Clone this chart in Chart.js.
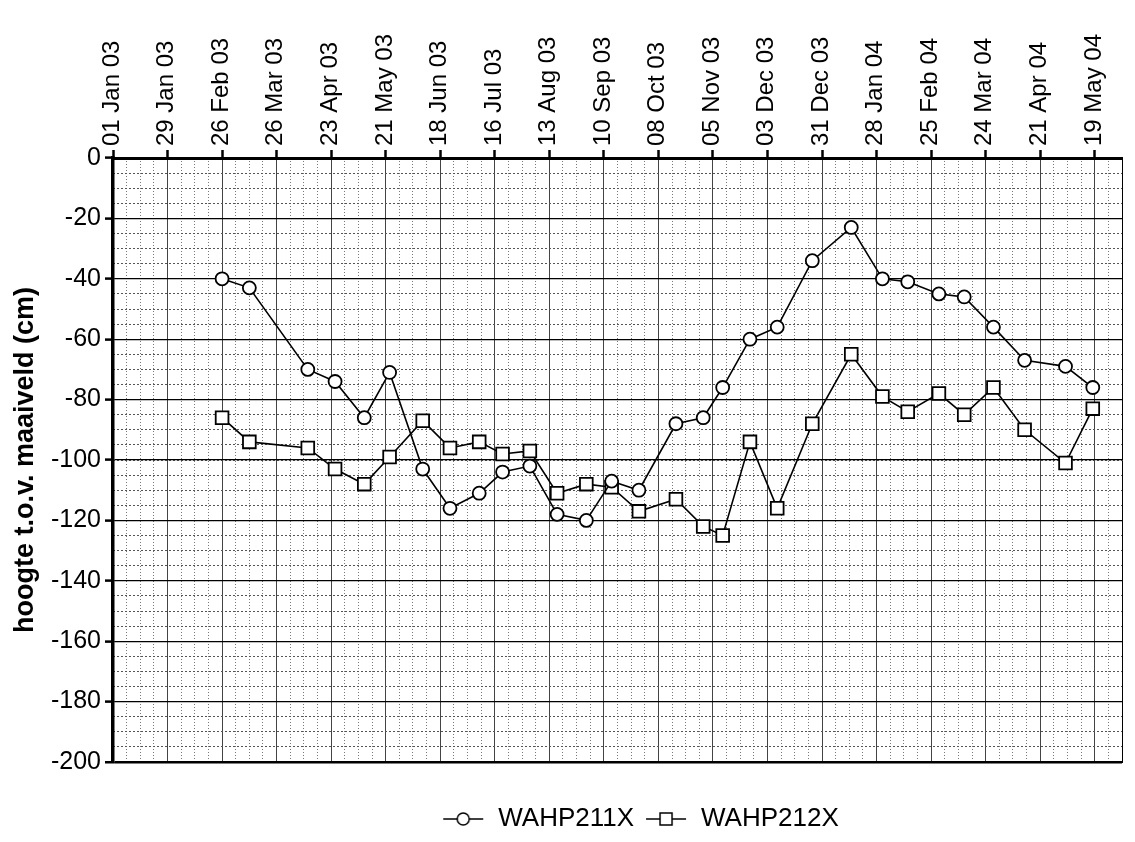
<!DOCTYPE html>
<html>
<head>
<meta charset="utf-8">
<title>WAHP211X / WAHP212X</title>
<script src="https://cdn.jsdelivr.net/npm/chart.js@4.4.1/dist/chart.umd.min.js"></script>
<style>
  html, body { margin: 0; padding: 0; background: #fff; }
</style>
</head>
<body>
<canvas id="chart" width="1135" height="842"></canvas>
<script>
/* ====== DATA ====== */

// x runs in days since 01 Jan 03, one labelled tick every 28 days
const xTickLabels = ['01 Jan 03', '29 Jan 03', '26 Feb 03', '26 Mar 03', '23 Apr 03', '21 May 03',
  '18 Jun 03', '16 Jul 03', '13 Aug 03', '10 Sep 03', '08 Oct 03', '05 Nov 03', '03 Dec 03',
  '31 Dec 03', '28 Jan 04', '25 Feb 04', '24 Mar 04', '21 Apr 04', '19 May 04']

const dates = ['2003-02-26', '2003-03-12', '2003-04-11', '2003-04-25', '2003-05-10', '2003-05-23',
  '2003-06-09', '2003-06-23', '2003-07-08', '2003-07-20', '2003-08-03', '2003-08-17',
  '2003-09-01', '2003-09-14', '2003-09-28', '2003-10-17', '2003-10-31', '2003-11-10',
  '2003-11-24', '2003-12-08', '2003-12-26', '2004-01-15', '2004-01-31', '2004-02-13',
  '2004-02-29', '2004-03-13', '2004-03-28', '2004-04-13', '2004-05-04', '2004-05-18']

const wahp211x = [-40, -43, -70, -74, -86, -71, -103, -116, -111, -104, -102, -118,
  -120, -107, -110, -88, -86, -76, -60, -56, -34, -23, -40, -41, -45, -46, -56, -67, -69, -76]

const wahp212x = [-86, -94, -96, -103, -108, -99, -87, -96, -94, -98, -97, -111,
  -108, -109, -117, -113, -122, -125, -94, -116, -88, -65, -79, -84, -78, -85, -76, -90, -101, -83]

const X_MAX = 518   // 02 Jun 04
const Y_MIN = -200
const Y_MAX = 0

/* ====== HELPERS ====== */

const START = Date.UTC(2003, 0, 1)
const toDay = s => Math.round((Date.parse(s + 'T00:00:00Z') - START) / 86400000)
const points = vals => vals.map((v, i) => ({ x: toDay(dates[i]), y: v }))

const FONT = "'Liberation Sans', Arial, sans-serif"

// legend marker: a short line with the point symbol in the middle
function legendIcon(shape) {
  const c = document.createElement('canvas')
  c.width = 44; c.height = 18
  const g = c.getContext('2d')
  g.strokeStyle = '#000'; g.lineWidth = 1.5
  g.beginPath(); g.moveTo(2, 9); g.lineTo(42, 9); g.stroke()
  g.fillStyle = '#fff'; g.lineWidth = 1.5
  g.beginPath()
  if (shape === 'circle') g.arc(22, 9, 6, 0, Math.PI * 2)
  else g.rect(16, 3, 12, 12)
  g.fill(); g.stroke()
  return c
}

// move the legend row to sit where the original has it
const shiftLegend = {
  id: 'shiftLegend',
  afterLayout(chart) { chart.legend.left += 79; chart.legend.right += 79 }
}

/* ====== CHART ====== */

const lineStyle = {
  borderColor: '#000', borderWidth: 1.6, tension: 0,
  pointBackgroundColor: '#fff', pointBorderColor: '#000', pointBorderWidth: 1.8
}

new Chart(document.getElementById('chart'), {
  type: 'line',
  data: {
    datasets: [
      { label: 'WAHP211X', data: points(wahp211x), pointStyle: 'circle', pointRadius: 6.5, ...lineStyle },
      { label: 'WAHP212X', data: points(wahp212x), pointStyle: 'rect', pointRadius: 9, ...lineStyle }
    ]
  },
  options: {
    responsive: false, animation: false,
    layout: { padding: { left: 0, right: 13, top: 0, bottom: 0 } },
    scales: {
      xMinor: {
        type: 'linear', position: 'top', min: 0, max: X_MAX,
        ticks: { display: false, stepSize: 7 },
        grid: { color: '#777', lineWidth: 1, drawTicks: false },
        border: { display: false, dash: [1, 2] },
        afterFit: s => { s.height = 0 }
      },
      x: {
        type: 'linear', position: 'top', min: 0, max: X_MAX,
        ticks: {
          stepSize: 28, includeBounds: false, autoSkip: false, minRotation: 90, maxRotation: 90,
          padding: 4, labelOffset: 28, color: '#000', font: { family: FONT, size: 24 },
          callback: v => xTickLabels[v / 28] || ''
        },
        grid: { color: '#444', lineWidth: 1, tickColor: '#000', tickWidth: 2.5, tickLength: 8 },
        border: { color: '#000', width: 3 },
        afterFit: s => { s.height = 158 }
      },
      xBottom: {
        type: 'linear', position: 'bottom', min: 0, max: X_MAX,
        ticks: { display: false }, grid: { display: false }, border: { display: false },
        afterFit: s => { s.height = 34 }
      },
      yMinor: {
        type: 'linear', position: 'left', min: Y_MIN, max: Y_MAX,
        ticks: { display: false, stepSize: 5 },
        grid: { color: '#555', lineWidth: 1, drawTicks: false },
        border: { display: false, dash: [2, 2] },
        afterFit: s => { s.width = 0 }
      },
      y: {
        type: 'linear', position: 'left', min: Y_MIN, max: Y_MAX,
        ticks: { stepSize: 20, padding: 4, color: '#000', font: { family: FONT, size: 25 } },
        title: {
          display: true, text: 'hoogte t.o.v. maaiveld (cm)', color: '#000',
          font: { family: FONT, size: 27, weight: 'bold' }, padding: { top: 9, bottom: 0 }
        },
        grid: {
          color: '#000', lineWidth: c => c.tick && c.tick.value === Y_MIN ? 2.5 : 1.2,
          tickColor: '#000', tickWidth: 2.5, tickLength: 8
        },
        border: { color: '#000', width: 3.5 },
        afterFit: s => { s.width = 113 }
      },
      yRight: {
        type: 'linear', position: 'right', min: Y_MIN, max: Y_MAX,
        ticks: { display: false }, grid: { display: false },
        border: { color: '#000', width: 1 },
        afterFit: s => { s.width = 0 }
      }
    },
    plugins: {
      legend: {
        position: 'bottom',
        labels: {
          color: '#000', font: { family: FONT, size: 26 }, padding: 10,
          usePointStyle: true, pointStyleWidth: 44,
          generateLabels: chart => Chart.defaults.plugins.legend.labels.generateLabels(chart)
            .map((item, i) => ({ ...item, pointStyle: legendIcon(i === 0 ? 'circle' : 'rect') }))
        }
      },
      tooltip: { enabled: false }
    }
  },
  plugins: [shiftLegend]
})
</script>
</body>
</html>
